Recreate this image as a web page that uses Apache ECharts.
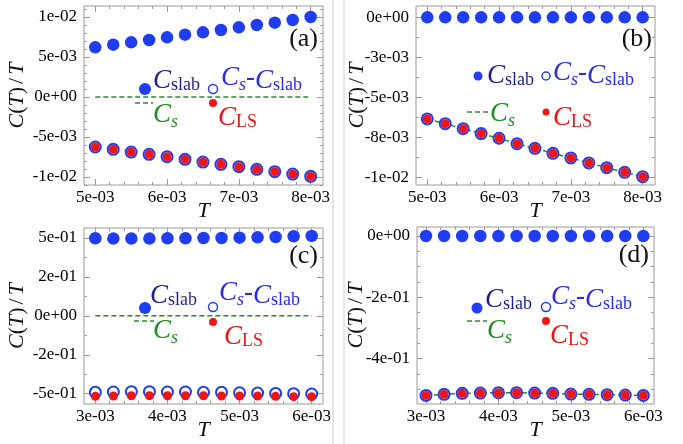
<!DOCTYPE html>
<html>
<head>
<meta charset="utf-8">
<script src="https://cdn.jsdelivr.net/npm/echarts@6/dist/echarts.min.js"></script>
<style>
  html, body { margin: 0; padding: 0; background: #fff; }
  #chart { width: 683px; height: 444px; }
</style>
</head>
<body>
<div id="chart"></div>
<script>
// temperatures
const T_AB = [0.005, 0.00525, 0.0055, 0.00575, 0.006, 0.00625, 0.0065, 0.00675, 0.007, 0.00725, 0.0075, 0.00775, 0.008]
const T_CD = [0.003, 0.00325, 0.0035, 0.00375, 0.004, 0.00425, 0.0045, 0.00475, 0.005, 0.00525, 0.0055, 0.00575, 0.006]

// panel (a)
const slabA = [0.00621, 0.00654, 0.00683, 0.00713, 0.00746, 0.00779, 0.00808, 0.00838, 0.00871, 0.009, 0.00929, 0.00963, 0.01]
const diffA = [-0.00625, -0.00654, -0.00688, -0.00717, -0.00746, -0.00779, -0.00813, -0.00842, -0.00871, -0.00904, -0.00933, -0.00963, -0.00992]
const lsA = [-0.00625, -0.00654, -0.00688, -0.00717, -0.00746, -0.00779, -0.00813, -0.00842, -0.00871, -0.00904, -0.00933, -0.00963, -0.00992]
const csA = [0, 0, 0, 0, 0, 0, 0, 0, 0, 0, 0, 0, 0]

// panel (b)
const slabB = [0, 0, 0, 0, 0, 0, 0, 0, 0, 0, 0, 0, 0]
const diffB = [-0.00635, -0.00665, -0.00696, -0.00727, -0.00756, -0.0079, -0.00819, -0.0085, -0.00879, -0.0091, -0.0094, -0.00969, -0.00996]
const lsB = [-0.00635, -0.00665, -0.00696, -0.00727, -0.00756, -0.0079, -0.00819, -0.0085, -0.00879, -0.0091, -0.0094, -0.00969, -0.00996]
const csB = [-0.00635, -0.00665, -0.00696, -0.00727, -0.00756, -0.0079, -0.00819, -0.0085, -0.00879, -0.0091, -0.0094, -0.00969, -0.00996]

// panel (c)
const slabC = [0.498, 0.496, 0.496, 0.496, 0.498, 0.498, 0.5, 0.5, 0.502, 0.504, 0.506, 0.511, 0.513]
const diffC = [-0.491, -0.489, -0.487, -0.487, -0.489, -0.489, -0.491, -0.491, -0.494, -0.496, -0.498, -0.5, -0.502]
const lsC = [-0.517, -0.515, -0.513, -0.513, -0.513, -0.513, -0.513, -0.515, -0.515, -0.515, -0.517, -0.519, -0.519]
const csC = [0, 0, 0, 0, 0, 0, 0, 0, 0, 0, 0, 0, 0]

// panel (d)
const slabD = [0, 0, 0, 0, 0, 0, 0, 0, 0, 0, 0, 0, 0]
const diffD = [-0.5196, -0.5163, -0.513, -0.512, -0.5109, -0.5109, -0.512, -0.513, -0.5152, -0.5163, -0.5174, -0.5185, -0.5196]
const lsD = [-0.5196, -0.5163, -0.513, -0.512, -0.5109, -0.5109, -0.512, -0.513, -0.5152, -0.5163, -0.5174, -0.5185, -0.5196]
const csD = [-0.5196, -0.5163, -0.513, -0.512, -0.5109, -0.5109, -0.512, -0.513, -0.5152, -0.5163, -0.5174, -0.5185, -0.5196]

// tick values and labels
const xTicksAB = [0.005, 0.006, 0.007, 0.008]
const xLabelsAB = ['5e-03', '6e-03', '7e-03', '8e-03']
const xTicksCD = [0.003, 0.004, 0.005, 0.006]
const xLabelsCD = ['3e-03', '4e-03', '5e-03', '6e-03']
const yTicksA = [0.01, 0.005, 0, -0.005, -0.01]
const yLabelsA = ['1e-02', '5e-03', '0e+00', '-5e-03', '-1e-02']
const yTicksB = [0, -0.0025, -0.005, -0.0075, -0.01]
const yLabelsB = ['0e+00', '-3e-03', '-5e-03', '-8e-03', '-1e-02']
const yTicksC = [0.5, 0.25, 0, -0.25, -0.5]
const yLabelsC = ['5e-01', '2e-01', '0e+00', '-2e-01', '-5e-01']
const yTicksD = [0, -0.2, -0.4]
const yLabelsD = ['0e+00', '-2e-01', '-4e-01']

const FONT = "'Liberation Serif', 'Times New Roman', serif"
const BLUE = '#1f3df2'
const RED = '#f01515'
const GREEN = '#2a8a2a'
const FRAME = '#9a9a9a'

const panels = [
  {
    tag: '(a)', grid: { left: 84, top: 6, width: 239, height: 179 },
    x: [0.004843, 0.008172], y: [-0.011, 0.011375],
    xt: xTicksAB, xl: xLabelsAB, xMinor: 0.0002,
    yt: yTicksA, yl: yLabelsA, yMinor: 0.001, yGap: 56,
    T: T_AB, slab: slabA, diff: diffA, ls: lsA, cs: csA,
    leg: { slab: [145, 89, 6], slabT: [153, 88], diff: [213, 89, 4.5], diffT: [221, 88],
           cs: [135, 153, 103], csT: [153, 125], ls: [213, 103, 4], lsT: [218, 125] },
    tagPos: [318, 26]
  },
  {
    tag: '(b)', grid: { left: 416, top: 6, width: 239, height: 179 },
    x: [0.004843, 0.008172], y: [-0.010481, 0.000706],
    xt: xTicksAB, xl: xLabelsAB, xMinor: 0.0002,
    yt: yTicksB, yl: yLabelsB, yMinor: 0.00125, yGap: 48,
    T: T_AB, slab: slabB, diff: diffB, ls: lsB, cs: csB,
    leg: { slab: [478, 76, 4.5], slabT: [487, 83], diff: [546, 76, 4], diffT: [553, 83],
           cs: [467, 490, 112], csT: [490, 124], ls: [546, 112, 3.5], lsT: [553, 125] },
    tagPos: [652, 26]
  },
  {
    tag: '(c)', grid: { left: 84, top: 228, width: 239, height: 176 },
    x: [0.002843, 0.006157], y: [-0.566, 0.564],
    xt: xTicksCD, xl: xLabelsCD, xMinor: 0.0002,
    yt: yTicksC, yl: yLabelsC, yMinor: 0.125, yGap: 56,
    T: T_CD, slab: slabC, diff: diffC, ls: lsC, cs: csC,
    leg: { slab: [145, 308, 6], slabT: [150, 303], diff: [213, 307, 4.5], diffT: [219, 303],
           cs: [134, 154, 321], csT: [153, 341], ls: [213, 322, 4], lsT: [224, 344] },
    tagPos: [318, 243]
  },
  {
    tag: '(d)', grid: { left: 417, top: 227, width: 237, height: 177 },
    x: [0.002876, 0.006147], y: [-0.5477, 0.0293],
    xt: xTicksCD, xl: xLabelsCD, xMinor: 0.0002,
    yt: yTicksD, yl: yLabelsD, yMinor: 0.05, yGap: 50,
    T: T_CD, slab: slabD, diff: diffD, ls: lsD, cs: csD,
    leg: { slab: [477, 308, 5.5], slabT: [485, 307], diff: [546, 307, 4.5], diffT: [551, 307],
           cs: [467, 487, 321], csT: [487, 341], ls: [546, 321, 4], lsT: [550, 343] },
    tagPos: [649, 242]
  }
]

function minorValues(range, step) {
  const out = []
  let v = Math.ceil(range[0] / step) * step
  while (v <= range[1] + 1e-12) {
    out.push(+v.toFixed(8))
    v += step
  }
  return out
}

const grids = []
const xAxes = []
const yAxes = []
const series = []
const graphics = []

const nameRich = {
  i: { fontFamily: FONT, fontSize: 22, fontStyle: 'italic', color: '#111' },
  r: { fontFamily: FONT, fontSize: 22, color: '#111' },
  s: { fontFamily: FONT, fontSize: 22, color: '#111', padding: [0, 3, 0, 3] }
}

function axisSet(p, gi, dir) {
  const isX = dir === 'x'
  const range = isX ? p.x : p.y
  const ticks = isX ? p.xt : p.yt
  const labels = isX ? p.xl : p.yl
  const minors = minorValues(range, isX ? p.xMinor : p.yMinor)
  const sides = isX ? ['bottom', 'top'] : ['left', 'right']
  const list = []
  sides.forEach((pos, si) => {
    [true, false].forEach(major => {
      const ax = {
        type: 'value', gridIndex: gi, position: pos,
        min: range[0], max: range[1],
        axisLine: { show: false, onZero: false },
        splitLine: { show: false },
        axisTick: {
          show: true, inside: true, length: major ? 6 : 3,
          customValues: major ? ticks : minors,
          lineStyle: { color: FRAME, width: 1 }
        },
        axisLabel: { show: false }
      }
      if (major && si === 0) {
        ax.axisLabel = {
          show: true, customValues: ticks,
          formatter: v => labels[ticks.indexOf(v)] ?? '',
          fontFamily: FONT, fontSize: 17, color: '#000',
          margin: isX ? 4 : 7
        }
        ax.nameLocation = 'middle'
        ax.nameMoveOverlap = false
        if (isX) {
          ax.name = '{i|T}'
          ax.nameGap = 15
          ax.nameTextStyle = { rich: nameRich, verticalAlign: 'top' }
        } else {
          ax.name = '{i|C}{r|(}{i|T}{r|)}{s|/}{i|T}'
          ax.nameGap = p.yGap
          ax.nameTextStyle = { rich: nameRich }
        }
      }
      list.push(ax)
    })
  })
  return list
}

const legRich = {
  c: { fontFamily: FONT, fontSize: 27, fontStyle: 'italic', verticalAlign: 'bottom' },
  cs: { fontFamily: FONT, fontSize: 27, fontStyle: 'italic', verticalAlign: 'bottom', padding: [0, 0, 3, 0] },
  si: { fontFamily: FONT, fontSize: 18, fontStyle: 'italic', verticalAlign: 'bottom' },
  sr: { fontFamily: FONT, fontSize: 18, verticalAlign: 'bottom' },
  h: { fontFamily: FONT, fontSize: 27, verticalAlign: 'bottom', padding: [0, 0, 3, 0] }
}

function legText(pos, text, color) {
  return {
    type: 'text', silent: true, z: 10,
    style: {
      x: pos[0], y: pos[1] + 6, text, rich: legRich,
      fill: color, verticalAlign: 'bottom', align: 'left',
      fontFamily: FONT, fontSize: 27
    }
  }
}

panels.forEach((p, gi) => {
  grids.push(Object.assign({ show: true, borderColor: FRAME, borderWidth: 1, backgroundColor: 'transparent' }, p.grid))
  const xs = axisSet(p, gi, 'x')
  const ys = axisSet(p, gi, 'y')
  const xi = xAxes.length
  const yi = yAxes.length
  xAxes.push(...xs)
  yAxes.push(...ys)

  series.push({
    type: 'line', xAxisIndex: xi, yAxisIndex: yi, z: 1,
    data: p.T.map((t, i) => [t, p.cs[i]]),
    symbol: 'none', lineStyle: { color: GREEN, width: 1.5, type: [5, 3] }
  })
  series.push({
    type: 'scatter', xAxisIndex: xi, yAxisIndex: yi, z: 2,
    data: p.T.map((t, i) => [t, p.slab[i]]),
    symbolSize: 12.5, itemStyle: { color: BLUE, opacity: 1 }
  })
  series.push({
    type: 'scatter', xAxisIndex: xi, yAxisIndex: yi, z: 3,
    data: p.T.map((t, i) => [t, p.diff[i]]),
    symbolSize: 11, itemStyle: { color: '#fff', borderColor: BLUE, borderWidth: 2, opacity: 1 }
  })
  series.push({
    type: 'scatter', xAxisIndex: xi, yAxisIndex: yi, z: 4,
    data: p.T.map((t, i) => [t, p.ls[i]]),
    symbolSize: 9, itemStyle: { color: RED, opacity: 1 }
  })

  const L = p.leg
  graphics.push(
    { type: 'circle', silent: true, z: 10, shape: { cx: L.slab[0], cy: L.slab[1], r: L.slab[2] }, style: { fill: BLUE } },
    legText(L.slabT, '{c|C}{sr|slab}', '#1f1f8a'),
    { type: 'circle', silent: true, z: 10, shape: { cx: L.diff[0], cy: L.diff[1], r: L.diff[2] }, style: { fill: '#fff', stroke: BLUE, lineWidth: 1.5 } },
    legText(L.diffT, '{cs|C}{si|s}{h|-}{c|C}{sr|slab}', '#2a2ae8'),
    { type: 'line', silent: true, z: 10, shape: { x1: L.cs[0], y1: L.cs[2], x2: L.cs[1], y2: L.cs[2] }, style: { stroke: GREEN, lineWidth: 1.5, lineDash: [5, 3] } },
    legText(L.csT, '{cs|C}{si|s}', '#1e8c1e'),
    { type: 'circle', silent: true, z: 10, shape: { cx: L.ls[0], cy: L.ls[1], r: L.ls[2] }, style: { fill: RED } },
    legText(L.lsT, '{c|C}{sr|LS}', '#ee1111'),
    {
      type: 'text', silent: true, z: 10,
      style: { x: p.tagPos[0], y: p.tagPos[1], text: p.tag, fill: '#111', align: 'right', verticalAlign: 'top', fontFamily: FONT, fontSize: 26 }
    }
  )
})

// separator lines between the columns
graphics.push(
  { type: 'line', silent: true, shape: { x1: 333, y1: 0, x2: 333, y2: 444 }, style: { stroke: '#cfcfcf', lineWidth: 1 } },
  { type: 'line', silent: true, shape: { x1: 344, y1: 0, x2: 344, y2: 444 }, style: { stroke: '#cfcfcf', lineWidth: 1 } }
)

const chart = echarts.init(document.getElementById('chart'))
chart.setOption({
  animation: false,
  backgroundColor: '#fff',
  grid: grids,
  xAxis: xAxes,
  yAxis: yAxes,
  series,
  graphic: graphics
})
</script>
</body>
</html>
